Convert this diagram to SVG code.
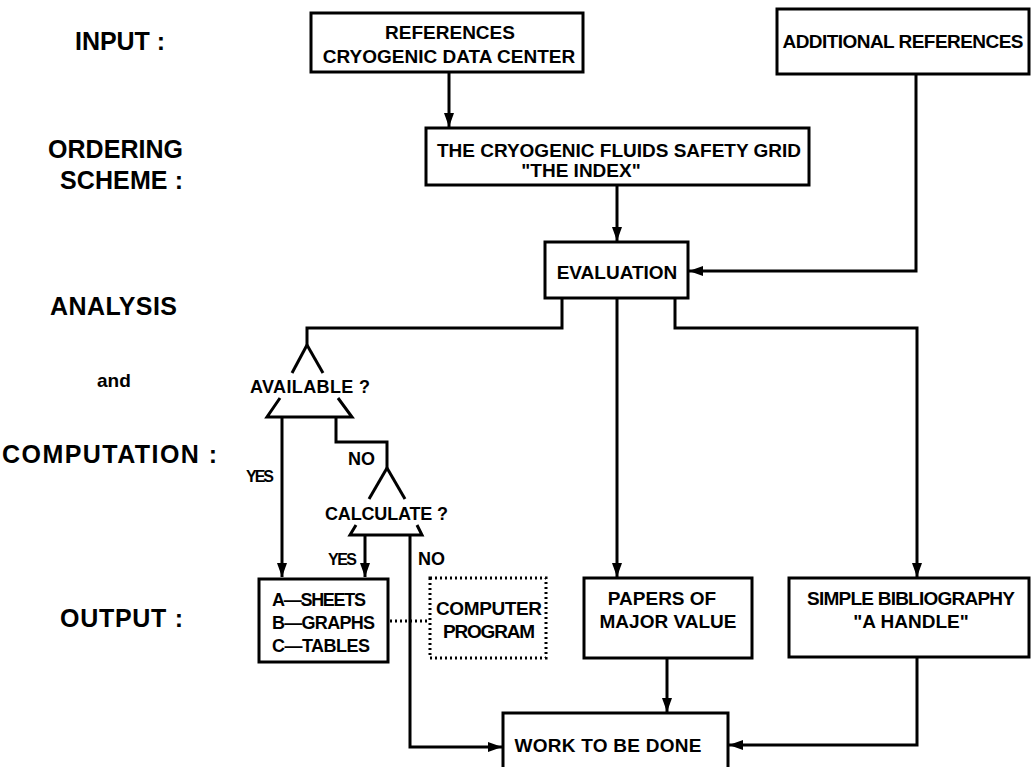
<svg xmlns="http://www.w3.org/2000/svg" width="1031" height="767" viewBox="0 0 1031 767">
<style>
.box{fill:#fff;stroke:#000;stroke-width:3}
.dbox{fill:#fff;stroke:#000;stroke-width:3;stroke-dasharray:2 3}
.c{fill:none;stroke:#000;stroke-width:3}
.d{fill:none;stroke:#000;stroke-width:3;stroke-dasharray:2 3}
.leg{stroke:#000;stroke-width:3;fill:none}
text{font-family:"Liberation Sans",Arial,sans-serif;font-weight:bold;fill:#000}
.t{font-size:19px;text-anchor:middle}
.s{font-size:18px}
.y{font-size:16px}
.l{font-size:25px}
</style>
<defs>
<marker id="ah" markerUnits="userSpaceOnUse" markerWidth="14" markerHeight="10" refX="14" refY="5" orient="auto">
<path d="M0,0 L14,5 L0,10 Z" fill="#000"/>
</marker>
</defs>
<rect width="1031" height="767" fill="#fff"/>

<g id="stage-labels">
<text class="l" x="75" y="50" textLength="90">INPUT :</text>
<text class="l" x="48" y="158" textLength="135">ORDERING</text>
<text class="l" x="60" y="189" textLength="123">SCHEME :</text>
<text class="l" x="50" y="315" textLength="127">ANALYSIS</text>
<text x="97" y="387" style="font-size:19px">and</text>
<text class="l" x="2" y="463" textLength="215">COMPUTATION :</text>
<text class="l" x="60" y="627" textLength="123">OUTPUT :</text>
</g>

<g id="connectors">
<line class="c" x1="449" y1="72" x2="449" y2="127" marker-end="url(#ah)"/>
<line class="c" x1="617" y1="185" x2="617" y2="241" marker-end="url(#ah)"/>
<polyline class="c" points="916,74 916,271 689,271" marker-end="url(#ah)"/>
<polyline class="c" points="562,298 562,328 307,328 307,345"/>
<line class="c" x1="617" y1="298" x2="617" y2="577" marker-end="url(#ah)"/>
<polyline class="c" points="675,298 675,328 917,328 917,577" marker-end="url(#ah)"/>
<line class="c" x1="667" y1="658" x2="667" y2="712" marker-end="url(#ah)"/>
<polyline class="c" points="917,657 917,745 729,745" marker-end="url(#ah)"/>
<line class="c" x1="282" y1="417" x2="282" y2="577" marker-end="url(#ah)"/>
<polyline class="c" points="336,417 336,442 387,442 387,468"/>
<line class="c" x1="365" y1="535" x2="365" y2="577" marker-end="url(#ah)"/>
<polyline class="c" points="410,535 410,747 502,747" marker-end="url(#ah)"/>
<line class="d" x1="390" y1="621" x2="429" y2="621"/>
<text class="y" x="246" y="482" textLength="28">YES</text>
<text class="s" x="348" y="465">NO</text>
<text class="y" x="328" y="565" textLength="29">YES</text>
<text class="s" x="418" y="565">NO</text>
</g>

<g id="references">
<rect class="box" x="311" y="13" width="272" height="59"/>
<text class="t" x="450" y="39">REFERENCES</text>
<text class="t" x="449" y="63">CRYOGENIC DATA CENTER</text>
</g>

<g id="additional-references">
<rect class="box" x="777" y="9" width="252" height="65"/>
<text class="t" x="903" y="48" textLength="241">ADDITIONAL REFERENCES</text>
</g>

<g id="index">
<rect class="box" x="426" y="128" width="383" height="57"/>
<text class="t" x="619" y="157">THE CRYOGENIC FLUIDS SAFETY GRID</text>
<text class="t" x="581" y="177">"THE INDEX"</text>
</g>

<g id="evaluation">
<rect class="box" x="545" y="242" width="143" height="56"/>
<text class="t" x="617" y="279">EVALUATION</text>
</g>

<g id="available">
<line class="leg" x1="307" y1="345" x2="292" y2="373"/>
<line class="leg" x1="307" y1="345" x2="323" y2="373"/>
<polyline class="leg" points="280,398 267,417 352,417 338,398"/>
<text class="s" x="250" y="393" textLength="120">AVAILABLE ?</text>
</g>

<g id="calculate">
<line class="leg" x1="387" y1="468" x2="369" y2="499"/>
<line class="leg" x1="387" y1="468" x2="405" y2="499"/>
<polyline class="leg" points="356,525 350,535 422,535 417,525"/>
<text class="s" x="325" y="520" textLength="123">CALCULATE ?</text>
</g>

<g id="sheets">
<rect class="box" x="259" y="579" width="129" height="83"/>
<text class="s" x="272" y="606" textLength="94">A—SHEETS</text>
<text class="s" x="272" y="629" textLength="103">B—GRAPHS</text>
<text class="s" x="272" y="652" textLength="98">C—TABLES</text>
</g>

<g id="computer-program">
<rect class="dbox" x="430" y="578" width="116" height="80"/>
<text class="t" x="489" y="615" textLength="106">COMPUTER</text>
<text class="t" x="489" y="638" textLength="92">PROGRAM</text>
</g>

<g id="papers">
<rect class="box" x="584" y="578" width="168" height="80"/>
<text class="t" x="662" y="605">PAPERS OF</text>
<text class="t" x="668" y="628">MAJOR VALUE</text>
</g>

<g id="bibliography">
<rect class="box" x="789" y="578" width="240" height="79"/>
<text class="t" x="911" y="605" textLength="208">SIMPLE BIBLIOGRAPHY</text>
<text class="t" x="911" y="628">"A HANDLE"</text>
</g>

<g id="work">
<rect class="box" x="503" y="713" width="225" height="60"/>
<text class="t" x="608" y="752" textLength="187">WORK TO BE DONE</text>
</g>
</svg>
